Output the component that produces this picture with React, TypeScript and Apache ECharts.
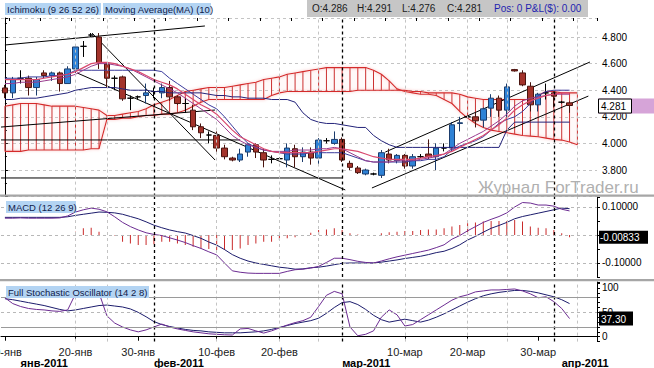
import React, { useEffect, useRef } from 'react';
import * as echarts from 'echarts';

// ---- categories (trading days, Saturdays absent) ----
const dates = [
  '10-янв','11-янв','12-янв','13-янв','14-янв','16-янв','17-янв','18-янв','19-янв','20-янв',
  '21-янв','23-янв','24-янв','25-янв','26-янв','27-янв','28-янв','30-янв','31-янв',
  '1-фев','2-фев','3-фев','4-фев','6-фев','7-фев','8-фев','9-фев','10-фев','11-фев',
  '13-фев','14-фев','15-фев','16-фев','17-фев','18-фев','20-фев','21-фев','22-фев','23-фев',
  '24-фев','25-фев','27-фев','28-фев',
  '1-мар','2-мар','3-мар','4-мар','6-мар','7-мар','8-мар','9-мар','10-мар','11-мар',
  '13-мар','14-мар','15-мар','16-мар','17-мар','18-мар','20-мар','21-мар','22-мар','23-мар',
  '24-мар','25-мар','27-мар','28-мар','29-мар','30-мар','31-мар',
  '1-апр','3-апр','4-апр','5-апр','6-апр','7-апр'
];
const dayLabels = ['10-янв','20-янв','30-янв','10-фев','20-фев','10-мар','20-мар','30-мар'];
const monthLabelAt = ['12-янв','1-фев','1-мар','3-апр'];
const monthLabels = ['янв-2011','фев-2011','мар-2011','апр-2011'];
const gridLineDays = ['20-янв','25-янв','10-фев','20-фев','25-фев','10-мар','20-мар','25-мар','5-апр'];
const monthStartDays = ['1-фев','1-мар','1-апр'];

// ---- price (OHLC) ----
const open = [4.417,4.38,4.49,4.49,4.42,4.53,4.51,4.53,4.45,4.56, 4.73,4.815,4.80,4.597,4.49,4.50,4.34,4.35,4.36,4.39, 4.38,4.42,4.35,4.30,4.25,4.125,4.063,4.06,3.965,3.89, 3.875,3.935,3.99,3.93,3.88,3.885,3.875,3.96,3.90,3.935, 3.89,4.02,4.00,4.03,3.85,3.815,3.77,3.77,3.76,3.92, 3.87,3.91,3.83,3.90,3.92,3.90,3.965,3.965,4.15,4.20, 4.20,4.175,4.265,4.34,4.25,4.555,4.53,4.43,4.29,4.38, 4.38,4.31,4.305];
const close = [4.38,4.48,4.49,4.42,4.48,4.51,4.53,4.45,4.56,4.725, 4.73,4.815,4.605,4.49,4.49,4.335,4.34,4.35,4.38,4.39, 4.42,4.35,4.30,4.30,4.125,4.08,4.063,3.965,3.90,3.875, 3.92,3.99,3.935,3.875,3.88,3.885,3.965,3.90,3.935,3.89, 4.025,4.02,4.03,3.875,3.82,3.78,3.80,3.77,3.93,3.875, 3.91,3.83,3.90,3.90,3.90,3.965,3.965,4.14,4.155,4.20, 4.17,4.26,4.34,4.25,4.425,4.545,4.44,4.29,4.37,4.38, 4.355,4.31,4.285];
const low = [4.34,4.34,4.45,4.36,4.36,4.49,4.47,4.39,4.45,4.53, 4.65,4.80,4.56,4.42,4.40,4.32,4.25,4.33,4.30,4.34, 4.34,4.32,4.29,4.23,4.10,4.04,4.00,3.93,3.88,3.865, 3.86,3.90,3.89,3.82,3.85,3.875,3.82,3.82,3.86,3.84, 3.84,4.00,3.99,3.86,3.80,3.77,3.76,3.76,3.74,3.85, 3.85,3.81,3.81,3.89,3.88,3.80,3.94,3.94,4.09,4.19, 4.12,4.12,4.20,4.20,4.20,4.54,4.43,4.24,4.24,4.33, 4.27,4.30,4.23];
const high = [4.44,4.50,4.55,4.51,4.50,4.55,4.54,4.54,4.58,4.74, 4.77,4.83,4.83,4.61,4.51,4.51,4.36,4.36,4.45,4.42, 4.45,4.47,4.36,4.34,4.29,4.15,4.09,4.09,3.99,3.90, 3.96,4.00,4.00,3.96,3.91,3.895,4.00,3.99,3.97,3.97, 4.04,4.04,4.09,4.045,3.87,3.83,3.81,3.78,3.95,3.96, 3.92,3.92,3.92,3.92,4.03,4.00,4.00,4.16,4.20,4.21, 4.23,4.27,4.37,4.36,4.45,4.56,4.55,4.46,4.38,4.45, 4.39,4.32,4.315];

// ---- Ichimoku / MA lines ----
const cloudA = [4.28,4.29,4.30,4.30,4.30,4.29,4.28,4.28,4.28,4.28, 4.27,4.26,4.25,4.21,4.21,4.22,4.23,4.24,4.26,4.29, 4.31,4.33,4.36,4.39,4.40,4.41,4.42,4.42,4.42,4.43, 4.44,4.45,4.46,4.48,4.49,4.50,4.52,4.53,4.54,4.55, 4.56,4.57,4.57,4.57,4.57,4.57,4.57,4.55,4.52,4.47, 4.41,4.39,4.38,4.37,4.37,4.36,4.33,4.30,4.24,4.19, 4.15,4.12,4.10,4.09,4.08,4.07,4.06,4.055,4.05,4.04, 4.03,4.025,4.01,3.99];
const cloudB = [3.94,3.94,3.94,3.95,3.95,3.95,3.95,3.95,3.95,3.95, 3.95,3.96,3.96,4.18,4.18,4.19,4.19,4.20,4.21,4.21, 4.22,4.22,4.23,4.25,4.28,4.31,4.33,4.33,4.33,4.33, 4.33,4.33,4.33,4.33,4.36,4.38,4.39,4.39,4.39,4.39, 4.39,4.39,4.39,4.39,4.39,4.40,4.40,4.40,4.40,4.40, 4.40,4.40,4.39,4.39,4.38,4.38,4.38,4.38,4.37,4.35, 4.34,4.33,4.33,4.33,4.33,4.33,4.33,4.33,4.36,4.39, 4.39,4.38,4.38,4.38];
const ma10 = [4.48,4.48,4.48,4.48,4.48,4.49,4.50,4.51,4.52,4.54, 4.57,4.60,4.61,4.61,4.60,4.58,4.56,4.54,4.51,4.48, 4.46,4.44,4.41,4.37,4.33,4.29,4.26,4.22,4.16,4.10, 4.05,4.02,3.99,3.96,3.94,3.93,3.93,3.93,3.93,3.93, 3.94,3.95,3.96,3.96,3.95,3.94,3.92,3.90,3.89,3.88, 3.88,3.88,3.88,3.89,3.90,3.91,3.92,3.94,3.97,4.00, 4.03,4.06,4.10,4.14,4.19,4.25,4.29,4.32,4.34,4.36, 4.37,4.38,4.38];
const pinkLine = [4.45,4.45,4.46,4.46,4.46,4.47,4.48,4.49,4.50,4.52, 4.55,4.58,4.60,4.60,4.59,4.58,4.56,4.53,4.50,4.47, 4.44,4.41,4.38,4.34,4.30,4.26,4.22,4.18,4.12,4.06, 4.02,3.99,3.97,3.95,3.94,3.94,3.94,3.95,3.95,3.95, 3.96,3.96,3.97,3.96,3.93,3.90,3.87,3.86,3.86,3.86, 3.87,3.87,3.87,3.88,3.89,3.90,3.92,3.96,4.00,4.03, 4.06,4.09,4.13,4.17,4.22,4.28,4.32,4.34,4.35,4.36, 4.37,4.37,4.37];
const tenkan = [4.49,4.49,4.49,4.50,4.50,4.50,4.51,4.51,4.52,4.55, 4.55,4.55,4.55,4.55,4.55,4.55,4.55,4.55,4.55,4.55, 4.54,4.49,4.45,4.41,4.37,4.33,4.29,4.26,4.20,4.13, 4.06,4.00,3.97,3.95,3.94,3.93,3.92,3.92,3.92,3.93, 3.93,3.93,3.93,3.93,3.91,3.89,3.87,3.86,3.86,3.86, 3.86,3.86,3.87,3.87,3.88,3.88,3.90,3.95,3.98,4.00, 4.02,4.05,4.10,4.15,4.18,4.20,4.24,4.30,4.36,4.39, 4.40,4.40,4.40];
const kijun = [4.33,4.33,4.34,4.34,4.34,4.35,4.36,4.37,4.38,4.40, 4.41,4.42,4.42,4.42,4.42,4.41,4.40,4.40,4.40,4.39, 4.39,4.38,4.38,4.38,4.38,4.38,4.37,4.36,4.36,4.35, 4.35,4.34,4.34,4.34,4.33,4.33,4.33,4.31,4.23,4.18, 4.16,4.15,4.15,4.14,4.13,4.12,4.12,4.06,4.02,3.99, 3.97,3.97,3.97,3.97,3.97,3.97,3.97,3.97,3.97,3.97, 3.97,3.97,3.97,3.97,4.10,4.16,4.16,4.16,4.16,4.16, 4.16,4.16,4.16];

// ---- drawn trend lines: [barIndex, price] pairs ----
const trendLines = [
  [[0.0, 4.74], [25.5, 4.883]],
  [[11.1, 4.83], [26.8, 3.875]],
  [[9.2, 4.53], [43.4, 3.65]],
  [[-0.5, 4.123], [26.8, 4.251]],
  [[-0.5, 4.026], [30.0, 4.026]],
  [[-0.5, 3.74], [43.1, 3.74]],
  [[48.5, 3.935], [74.6, 4.612]],
  [[46.8, 3.665], [74.4, 4.356]]
];

// ---- MACD (12 26 9) ----
const macd = [0.060,0.060,0.061,0.060,0.060,0.060,0.060,0.061,0.068,0.082, 0.090,0.096,0.092,0.083,0.065,0.045,0.030,0.018,0.008,0.002, -0.002,-0.010,-0.018,-0.027,-0.038,-0.048,-0.060,-0.071,-0.100,-0.128, -0.133,-0.136,-0.137,-0.137,-0.137,-0.137,-0.130,-0.124,-0.122,-0.118, -0.112,-0.098,-0.083,-0.083,-0.088,-0.094,-0.098,-0.100,-0.093,-0.085, -0.078,-0.072,-0.066,-0.060,-0.054,-0.045,-0.035,-0.015,-0.002,0.015, 0.030,0.045,0.056,0.066,0.079,0.100,0.116,0.114,0.107,0.107, 0.103,0.092,0.086];
const macdSignal = [0.063,0.063,0.063,0.063,0.063,0.063,0.063,0.063,0.065,0.070, 0.074,0.078,0.082,0.081,0.079,0.074,0.066,0.058,0.047,0.035, 0.026,0.018,0.012,0.007,-0.002,-0.012,-0.025,-0.036,-0.052,-0.070, -0.083,-0.093,-0.100,-0.105,-0.110,-0.115,-0.118,-0.122,-0.121,-0.117, -0.115,-0.111,-0.106,-0.101,-0.100,-0.100,-0.100,-0.100,-0.097,-0.093, -0.089,-0.084,-0.080,-0.076,-0.070,-0.063,-0.058,-0.048,-0.035,-0.018, -0.005,0.010,0.024,0.034,0.045,0.058,0.066,0.072,0.078,0.084, 0.090,0.096,0.094];
const macdHist = [0,0,0,0,0,0,0,0,0,0.012, 0.024,0.026,0.012,0,-0.002,-0.024,-0.030,-0.036,-0.036,-0.033, -0.024,-0.024,-0.030,-0.036,-0.042,-0.048,-0.050,-0.054,-0.054,-0.054, -0.048,-0.036,-0.030,-0.024,-0.024,-0.018,-0.012,-0.008,-0.004,0.008, 0.018,0.020,0.024,0.018,0.006,0.002,0,0,0.006,0.010, 0.012,0.014,0.014,0.018,0.020,0.020,0.024,0.030,0.036,0.042, 0.045,0.048,0.050,0.050,0.050,0.054,0.048,0.030,0.026,0.024, 0.018,0.006,-0.008];

// ---- Full Stochastic (14 2 8) ----
const stochK = [80,68,62,58,56,55,53,52,55,88, 96,94,90,43,28,20,14,10,14,20, 26,20,16,13,10,8,6,5,4,3.5, 16,17,12,7.5,12,18,24,29,33,40, 62,85,93,88,20,2,5,12,40,55, 45,22,25,35,45,55,65,75,82,86, 92,94,96,96,97,98,94,88,80,82, 72,58,37.3];
const stochD = [78,76,73,70,67,64,60,56,53,55, 58,61,64,65,63,61,57,50,41,31, 25,21,18,15,13,12,10,9,8,8, 8,9,10,12,15,19,23,27,30,33, 38,48,60,70,72,66,56,44,35,30, 33,36,33,30,34,40,47,55,63,71, 78,84,88,91,93,95,95,93,90,86, 82,76,68];

const headerQuote = ['O:4.286', 'H:4.291', 'L:4.276', 'C:4.281'];
const headerPos = 'Pos: 0 P&L($): 0.00';
const lastPrice = 4.281;
const lastMacd = -0.00833;
const lastStoch = 37.3;

const FONT = '"Liberation Sans", Arial, sans-serif';

function vLines() {
  return [
    ...gridLineDays.map((d) => ({ xAxis: d, lineStyle: { color: '#c4c4c4', type: [3, 3], width: 1 } })),
    ...monthStartDays.map((d) => ({ xAxis: d, lineStyle: { color: '#000', type: [3, 3], width: 1.3 } }))
  ];
}

const markBase = { silent: true, symbol: ['none', 'none'], label: { show: false }, animation: false };

export default function App() {
  const ref = useRef<HTMLDivElement>(null);
  useEffect(() => {
    document.body.style.margin = '0';
    const chart = echarts.init(ref.current!, null, { renderer: 'svg' });
    const yAxisCommon = {
      position: 'right',
      axisLine: { show: true, lineStyle: { color: '#000', width: 1 } },
      axisTick: { show: true, length: 3, lineStyle: { color: '#000' } },
      axisLabel: { color: '#000', fontSize: 10, margin: 5, fontFamily: FONT }
    };
    const gridBase = { left: 1, right: 57, containLabel: false, outerBoundsMode: 'none' };
    const option: any = {
      animation: false,
      backgroundColor: '#fff',
      textStyle: { fontFamily: FONT },
      grid: [
        { ...gridBase, top: 18, height: 178.6 },
        { ...gridBase, top: 197, height: 80 },
        { ...gridBase, top: 282, height: 59.6 }
      ],
      xAxis: [
        { type: 'category', gridIndex: 0, data: dates, position: 'top', axisLine: { show: false }, axisLabel: { show: false },
          axisTick: { show: true, inside: true, length: 3, interval: (i: number) => i % 4 === 1, lineStyle: { color: '#000' } } },
        { type: 'value', gridIndex: 0, min: -0.5, max: 75.5, show: false },
        { type: 'category', gridIndex: 1, data: dates, show: false },
        { type: 'category', gridIndex: 2, data: dates, position: 'bottom',
          axisLine: { show: true, lineStyle: { color: '#000' } },
          axisTick: { show: true, alignWithLabel: true, length: 4, interval: (i: number, v: string) => dayLabels.includes(v), lineStyle: { color: '#000' } },
          axisLabel: { show: true, interval: (i: number, v: string) => dayLabels.includes(v), color: '#222', fontSize: 11, margin: 5, fontFamily: FONT } },
        { type: 'category', gridIndex: 2, data: dates, position: 'bottom', offset: 11,
          axisLine: { show: false }, axisTick: { show: false },
          axisLabel: { show: true, interval: (i: number, v: string) => monthLabelAt.includes(v),
            formatter: (v: string) => monthLabels[monthLabelAt.indexOf(v)] || '', align: 'left', color: '#000', fontSize: 11, fontWeight: 'bold', margin: 5, fontFamily: FONT } }
      ],
      yAxis: [
        { ...yAxisCommon, type: 'value', gridIndex: 0, min: 3.6, max: 4.943, interval: 0.2,
          minorTick: { show: true, splitNumber: 2, length: 2, lineStyle: { color: '#000' } },
          axisLabel: { ...yAxisCommon.axisLabel, formatter: (v: number) => (v > 3.7 && v < 4.85 ? v.toFixed(3) : '') },
          splitLine: { show: true, lineStyle: { color: '#c4c4c4', type: [3, 3] } } },
        { ...yAxisCommon, type: 'value', gridIndex: 1, min: -0.15, max: 0.1357, interval: 0.05,
          axisLabel: { ...yAxisCommon.axisLabel, formatter: (v: number) => (Math.abs(Math.abs(v) - 0.1) < 1e-6 ? v.toFixed(5) : '') },
          splitLine: { show: false } },
        { ...yAxisCommon, type: 'value', gridIndex: 2, min: -10, max: 112.3, interval: 10,
          axisLabel: { ...yAxisCommon.axisLabel, formatter: (v: number) => (Math.abs(v) < 1e-6 || Math.abs(v - 50) < 1e-6 || Math.abs(v - 100) < 1e-6 ? String(Math.round(v)) : '') },
          splitLine: { show: false } }
      ],
      series: [
        // cloud hatch + faint fill
        {
          type: 'custom', xAxisIndex: 1, yAxisIndex: 0, z: 1, clip: true,
          data: cloudA.map((a, k) => [k, a, cloudB[k]]),
          encode: { x: 0, y: [1, 2] },
          renderItem: (params: any, api: any) => {
            const i = api.value(0);
            const p1 = api.coord([i, api.value(1)]);
            const p2 = api.coord([i, api.value(2)]);
            const children: any[] = [];
            if (i < cloudA.length - 1) {
              const q1 = api.coord([i + 1, cloudA[i + 1]]);
              const q2 = api.coord([i + 1, cloudB[i + 1]]);
              children.push({ type: 'polygon', shape: { points: [p1, q1, q2, p2] }, style: { fill: 'rgba(252,215,215,0.16)' } });
            }
            children.push({ type: 'line', shape: { x1: p1[0], y1: p1[1], x2: p2[0], y2: p2[1] }, style: { stroke: '#cc3030', lineWidth: 1 } });
            return { type: 'group', children };
          }
        },
        { type: 'line', xAxisIndex: 0, yAxisIndex: 0, data: cloudA, symbol: 'none', z: 1,
          lineStyle: { color: '#d42a2a', width: 1.1, shadowBlur: 3, shadowColor: 'rgba(240,120,120,0.6)' },
          markLine: { ...markBase, data: vLines() } },
        { type: 'line', xAxisIndex: 0, yAxisIndex: 0, data: cloudB, symbol: 'none', z: 1,
          lineStyle: { color: '#d42a2a', width: 1.1, shadowBlur: 3, shadowColor: 'rgba(240,120,120,0.6)' } },
        // trend lines
        ...trendLines.map((seg) => ({
          type: 'line', xAxisIndex: 1, yAxisIndex: 0, data: seg, symbol: 'none', z: 2,
          lineStyle: { color: '#000', width: 1 }
        })),
        // candles
        {
          type: 'candlestick', xAxisIndex: 0, yAxisIndex: 0, z: 3, barWidth: 6,
          data: open.map((o, k) => [o, close[k], low[k], high[k]]),
          itemStyle: { color: '#2f82d6', color0: '#a3332b', borderColor: '#1b3c6c', borderColor0: '#4a140f', borderColorDoji: '#000', borderWidth: 1 }
        },
        { type: 'line', xAxisIndex: 0, yAxisIndex: 0, data: kijun, symbol: 'none', z: 4, lineStyle: { color: '#23237a', width: 1 } },
        { type: 'line', xAxisIndex: 0, yAxisIndex: 0, data: tenkan, symbol: 'none', z: 4, lineStyle: { color: '#3b3b9c', width: 1 } },
        { type: 'line', xAxisIndex: 0, yAxisIndex: 0, data: pinkLine, symbol: 'none', z: 4, lineStyle: { color: '#9a3c8e', width: 1 } },
        { type: 'line', xAxisIndex: 0, yAxisIndex: 0, data: ma10, symbol: 'none', z: 4, lineStyle: { color: '#d9486e', width: 1.2 } },
        // MACD
        { type: 'bar', xAxisIndex: 2, yAxisIndex: 1, data: macdHist, barWidth: 1, itemStyle: { color: '#c92a2a' }, z: 2,
          markLine: { ...markBase, data: [
            ...vLines(),
            ...[0.1, 0, -0.1].map((v) => ({ yAxis: v, lineStyle: { color: '#b8b8b8', type: [3, 3], width: 1 } }))
          ] } },
        { type: 'line', xAxisIndex: 2, yAxisIndex: 1, data: macdSignal, symbol: 'none', z: 3, lineStyle: { color: '#1c1c6c', width: 1 } },
        { type: 'line', xAxisIndex: 2, yAxisIndex: 1, data: macd, symbol: 'none', z: 3, lineStyle: { color: '#6c2c92', width: 1 } },
        // Stochastic
        { type: 'line', xAxisIndex: 3, yAxisIndex: 2, data: stochD, symbol: 'none', z: 3, lineStyle: { color: '#1c1c6c', width: 1 },
          markLine: { ...markBase, data: [
            ...vLines(),
            { yAxis: 50, lineStyle: { color: '#b8b8b8', type: [3, 3], width: 1 } },
            { yAxis: 80, lineStyle: { color: '#9a9a9a', type: 'solid', width: 1 } },
            { yAxis: 20, lineStyle: { color: '#9a9a9a', type: 'solid', width: 1 } }
          ] } },
        { type: 'line', xAxisIndex: 3, yAxisIndex: 2, data: stochK, symbol: 'none', z: 3, lineStyle: { color: '#6c2c92', width: 1 } }
      ]
    };
    chart.setOption(option);

    const yP = chart.convertToPixel({ yAxisIndex: 0 }, lastPrice) as number;
    const yM = chart.convertToPixel({ yAxisIndex: 1 }, lastMacd) as number;
    const yS = chart.convertToPixel({ yAxisIndex: 2 }, lastStoch) as number;
    const hdr = (x: number, y: number, t: string, fill: string, size = 10) => ({ type: 'text', x, y, z: 100, style: { text: t, fill, font: `${size}px ${FONT}`, verticalAlign: 'middle' } });
    const quoteX = [312, 357, 402, 447];
    chart.setOption({
      graphic: [
        { type: 'rect', shape: { x: 0, y: 194.5, width: 654, height: 2.2 }, style: { fill: '#a6a6a6' }, z: 90 },
        { type: 'rect', shape: { x: 0, y: 279, width: 654, height: 2.2 }, style: { fill: '#a6a6a6' }, z: 90 },
        { type: 'rect', shape: { x: 5, y: 3, width: 96, height: 12 }, style: { fill: '#b3d4f3' }, z: 99 },
        hdr(7, 9.5, 'Ichimoku (9 26 52 26)', '#10204a', 9.5),
        { type: 'rect', shape: { x: 103, y: 3, width: 108, height: 12 }, style: { fill: '#b3d4f3' }, z: 99 },
        hdr(105, 9.5, 'Moving Average(MA) (10)', '#10204a', 9.5),
        { type: 'rect', shape: { x: 307, y: 0, width: 281, height: 17 }, style: { fill: '#c6c6c6' }, z: 99 },
        ...headerQuote.map((t, k) => hdr(quoteX[k], 8.5, t, '#202020')),
        hdr(494, 8.5, headerPos, '#1f1fb0'),
        { type: 'rect', shape: { x: 6, y: 201, width: 70, height: 12 }, style: { fill: '#b3d4f3' }, z: 99 },
        hdr(8, 207.5, 'MACD (12 26 9)', '#10204a', 9.5),
        { type: 'rect', shape: { x: 6, y: 286, width: 143, height: 12 }, style: { fill: '#b3d4f3' }, z: 99 },
        hdr(8, 292.5, 'Full Stochastic Oscillator (14 2 8)', '#10204a', 9.5),
        { type: 'text', x: 478, y: 187, z: 95, style: { text: 'Журнал ForTrader.ru', fill: '#b0b0b0', font: `17px ${FONT}`, verticalAlign: 'middle' } },
        { type: 'rect', shape: { x: 598, y: yP - 7.5, width: 56, height: 15 }, style: { fill: '#d6a4d8' }, z: 100 },
        { type: 'rect', shape: { x: 598.5, y: yP - 7, width: 33, height: 14 }, style: { fill: '#fff', stroke: '#000', lineWidth: 1 }, z: 101 },
        { type: 'text', x: 601, y: yP + 0.5, z: 102, style: { text: '4.281', fill: '#000', font: `10px ${FONT}`, verticalAlign: 'middle' } },
        { type: 'rect', shape: { x: 599, y: yM - 6.5, width: 49, height: 13 }, style: { fill: '#000' }, z: 101 },
        { type: 'text', x: 600, y: yM + 0.5, z: 102, style: { text: '-0.00833', fill: '#fff', font: `10px ${FONT}`, verticalAlign: 'middle' } },
        { type: 'rect', shape: { x: 599, y: yS - 7, width: 34, height: 14 }, style: { fill: '#000' }, z: 101 },
        { type: 'text', x: 601, y: yS + 0.5, z: 102, style: { text: '37.30', fill: '#fff', font: `10px ${FONT}`, verticalAlign: 'middle' } }
      ]
    });
    return () => chart.dispose();
  }, []);
  return <div ref={ref} style={{ width: 654, height: 368 }} />;
}
